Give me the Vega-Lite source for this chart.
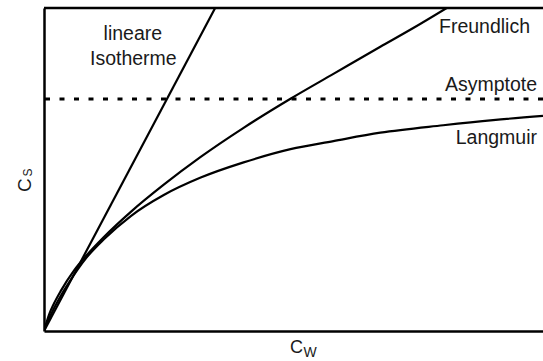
{
  "$schema": "https://vega.github.io/schema/vega-lite/v6.json",
  "width": 499,
  "height": 323,
  "autosize": {"type": "none"},
  "padding": {"left": 44, "top": 8, "right": 0, "bottom": 30},
  "background": "white",
  "config": {"view": {"stroke": null}, "font": "Liberation Sans"},
  "layer": [
    {
      "data": {
        "values": [
          {"isotherm": "lineare Isotherme", "cw": 0, "cs": 0},
          {"isotherm": "lineare Isotherme", "cw": 3.43, "cs": 10},
          {"isotherm": "Freundlich", "cw": 0, "cs": 0},
          {"isotherm": "Freundlich", "cw": 0.1, "cs": 0.5},
          {"isotherm": "Freundlich", "cw": 0.2, "cs": 0.85},
          {"isotherm": "Freundlich", "cw": 0.34, "cs": 1.25},
          {"isotherm": "Freundlich", "cw": 0.6, "cs": 1.87},
          {"isotherm": "Freundlich", "cw": 0.84, "cs": 2.32},
          {"isotherm": "Freundlich", "cw": 1.2, "cs": 2.91},
          {"isotherm": "Freundlich", "cw": 1.74, "cs": 3.69},
          {"isotherm": "Freundlich", "cw": 2.4, "cs": 4.53},
          {"isotherm": "Freundlich", "cw": 3.14, "cs": 5.39},
          {"isotherm": "Freundlich", "cw": 4.0, "cs": 6.29},
          {"isotherm": "Freundlich", "cw": 4.94, "cs": 7.19},
          {"isotherm": "Freundlich", "cw": 5.8, "cs": 7.96},
          {"isotherm": "Freundlich", "cw": 6.74, "cs": 8.8},
          {"isotherm": "Freundlich", "cw": 7.4, "cs": 9.38},
          {"isotherm": "Freundlich", "cw": 8.07, "cs": 10}
        ]
      },
      "mark": {"type": "line", "color": "black", "strokeWidth": 2.2, "interpolate": "monotone", "clip": true},
      "encoding": {
        "x": {
          "field": "cw", "type": "quantitative",
          "scale": {"domain": [0, 10], "nice": false, "zero": false},
          "axis": {"title": null, "labels": false, "ticks": false, "grid": false, "domainColor": "black", "domainWidth": 2.5}
        },
        "y": {
          "field": "cs", "type": "quantitative",
          "scale": {"domain": [0, 10], "nice": false, "zero": false},
          "axis": {"title": null, "labels": false, "ticks": false, "grid": false, "domainColor": "black", "domainWidth": 2.5}
        },
        "detail": {"field": "isotherm"}
      }
    },
    {
      "data": {
        "values": [
          {"isotherm": "Langmuir", "cw": 0, "cs": 0},
          {"isotherm": "Langmuir", "cw": 0.1, "cs": 0.38},
          {"isotherm": "Langmuir", "cw": 0.34, "cs": 1.1},
          {"isotherm": "Langmuir", "cw": 0.5, "cs": 1.5},
          {"isotherm": "Langmuir", "cw": 0.84, "cs": 2.25},
          {"isotherm": "Langmuir", "cw": 1.2, "cs": 2.84},
          {"isotherm": "Langmuir", "cw": 1.74, "cs": 3.56},
          {"isotherm": "Langmuir", "cw": 2.4, "cs": 4.21},
          {"isotherm": "Langmuir", "cw": 3.14, "cs": 4.75},
          {"isotherm": "Langmuir", "cw": 4.0, "cs": 5.22},
          {"isotherm": "Langmuir", "cw": 4.94, "cs": 5.63},
          {"isotherm": "Langmuir", "cw": 5.8, "cs": 5.88},
          {"isotherm": "Langmuir", "cw": 6.74, "cs": 6.14},
          {"isotherm": "Langmuir", "cw": 8.0, "cs": 6.37},
          {"isotherm": "Langmuir", "cw": 9.0, "cs": 6.53},
          {"isotherm": "Langmuir", "cw": 10.0, "cs": 6.66}
        ]
      },
      "mark": {"type": "line", "color": "black", "strokeWidth": 2.2, "interpolate": "monotone", "clip": true},
      "encoding": {
        "x": {"field": "cw", "type": "quantitative"},
        "y": {"field": "cs", "type": "quantitative"}
      }
    },
    {
      "data": {"values": [{"asymptote": 7.18}]},
      "mark": {"type": "rule", "color": "black", "strokeWidth": 3, "strokeDash": [5, 9.5]},
      "encoding": {"y": {"field": "asymptote", "type": "quantitative"}}
    },
    {
      "data": {"values": [{"top": 10}]},
      "mark": {"type": "rule", "color": "black", "strokeWidth": 2.5},
      "encoding": {"y": {"field": "top", "type": "quantitative"}}
    },
    {
      "data": {
        "values": [
          {"label": "lineare", "cw": 1.78, "cs": 9.0},
          {"label": "Isotherme", "cw": 1.79, "cs": 8.23}
        ]
      },
      "mark": {"type": "text", "fontSize": 19.5, "align": "center", "baseline": "alphabetic", "color": "#1a1a1a"},
      "encoding": {
        "x": {"field": "cw", "type": "quantitative"},
        "y": {"field": "cs", "type": "quantitative"},
        "text": {"field": "label"}
      }
    },
    {
      "data": {
        "values": [
          {"label": "Freundlich", "cw": 9.74, "cs": 9.24},
          {"label": "Asymptote", "cw": 9.88, "cs": 7.43},
          {"label": "Langmuir", "cw": 9.88, "cs": 5.78}
        ]
      },
      "mark": {"type": "text", "fontSize": 19.5, "align": "right", "baseline": "alphabetic", "color": "#1a1a1a"},
      "encoding": {
        "x": {"field": "cw", "type": "quantitative"},
        "y": {"field": "cs", "type": "quantitative"},
        "text": {"field": "label"}
      }
    },
    {
      "data": {"values": [{"label": "C", "cw": 4.93, "cs": -0.69}]},
      "mark": {"type": "text", "fontSize": 18, "align": "left", "baseline": "alphabetic", "color": "#1a1a1a"},
      "encoding": {
        "x": {"field": "cw", "type": "quantitative"},
        "y": {"field": "cs", "type": "quantitative"},
        "text": {"field": "label"}
      }
    },
    {
      "data": {"values": [{"label": "W", "cw": 5.2, "cs": -0.81}]},
      "mark": {"type": "text", "fontSize": 14, "align": "left", "baseline": "alphabetic", "color": "#1a1a1a"},
      "encoding": {
        "x": {"field": "cw", "type": "quantitative"},
        "y": {"field": "cs", "type": "quantitative"},
        "text": {"field": "label"}
      }
    },
    {
      "data": {"values": [{"label": "C", "cw": -0.26, "cs": 4.3}]},
      "mark": {"type": "text", "fontSize": 19, "angle": 270, "align": "left", "baseline": "alphabetic", "color": "#1a1a1a"},
      "encoding": {
        "x": {"field": "cw", "type": "quantitative"},
        "y": {"field": "cs", "type": "quantitative"},
        "text": {"field": "label"}
      }
    },
    {
      "data": {"values": [{"label": "S", "cw": -0.24, "cs": 4.78}]},
      "mark": {"type": "text", "fontSize": 12, "angle": 270, "align": "left", "baseline": "alphabetic", "color": "#1a1a1a"},
      "encoding": {
        "x": {"field": "cw", "type": "quantitative"},
        "y": {"field": "cs", "type": "quantitative"},
        "text": {"field": "label"}
      }
    }
  ]
}
